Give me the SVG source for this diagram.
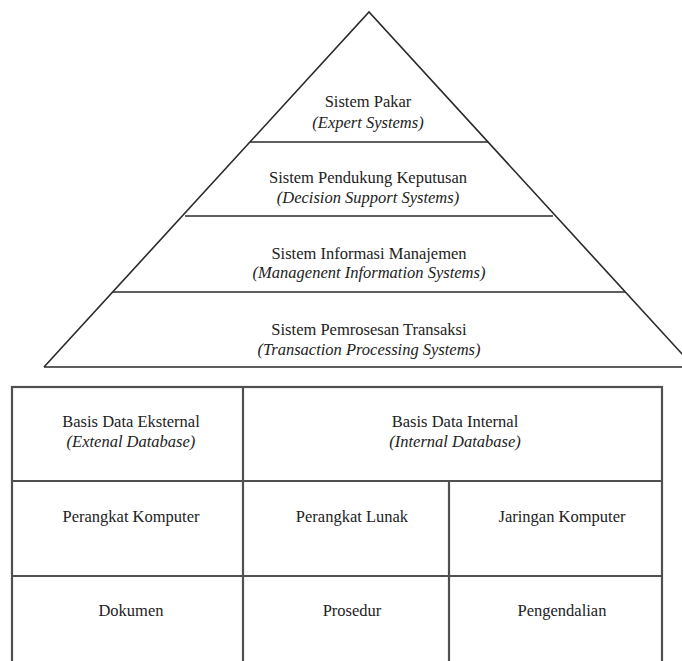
<svg xmlns="http://www.w3.org/2000/svg" width="682" height="661" viewBox="0 0 682 661">
<style>
.ln{stroke:#2a2a2a;stroke-width:1.6;fill:none}
.tl{stroke:#505050;stroke-width:2.2;fill:none}
text{font-family:"Liberation Serif","Times New Roman",serif;font-size:16.5px;fill:#222;text-anchor:middle}
.it{font-style:italic}
</style>
<rect width="682" height="661" fill="#fff"/>
<g id="connectors">
<polyline class="ln" points="44,367 369,12 694,367"/>
<line class="ln" x1="44" y1="367" x2="682" y2="367"/>
<line class="ln" x1="250" y1="142" x2="488" y2="142"/>
<line class="ln" x1="185" y1="216" x2="553" y2="216"/>
<line class="ln" x1="113" y1="292" x2="625" y2="292"/>
<rect class="tl" x="12" y="387" width="650" height="290"/>
<line class="tl" x1="12" y1="481" x2="662" y2="481"/>
<line class="tl" x1="12" y1="576" x2="662" y2="576"/>
<line class="tl" x1="243" y1="387" x2="243" y2="670"/>
<line class="tl" x1="449" y1="481" x2="449" y2="670"/>
</g>
<g id="expert"><text x="368" y="107">Sistem Pakar</text><text class="it" x="368" y="128">(Expert Systems)</text></g>
<g id="dss"><text x="368" y="183">Sistem Pendukung Keputusan</text><text class="it" x="368" y="203">(Decision Support Systems)</text></g>
<g id="mis"><text x="369" y="259">Sistem Informasi Manajemen</text><text class="it" x="369" y="278">(Managenent Information Systems)</text></g>
<g id="tps"><text x="369" y="335">Sistem Pemrosesan Transaksi</text><text class="it" x="369" y="355">(Transaction Processing Systems)</text></g>
<g id="extdb"><text x="131" y="427">Basis Data Eksternal</text><text class="it" x="131" y="447">(Extenal Database)</text></g>
<g id="intdb"><text x="455" y="427">Basis Data Internal</text><text class="it" x="455" y="447">(Internal Database)</text></g>
<g id="hw"><text x="131" y="522">Perangkat Komputer</text></g>
<g id="sw"><text x="352" y="522">Perangkat Lunak</text></g>
<g id="net"><text x="562" y="522">Jaringan Komputer</text></g>
<g id="doc"><text x="131" y="616">Dokumen</text></g>
<g id="proc"><text x="352" y="616">Prosedur</text></g>
<g id="ctrl"><text x="562" y="616">Pengendalian</text></g>
</svg>
